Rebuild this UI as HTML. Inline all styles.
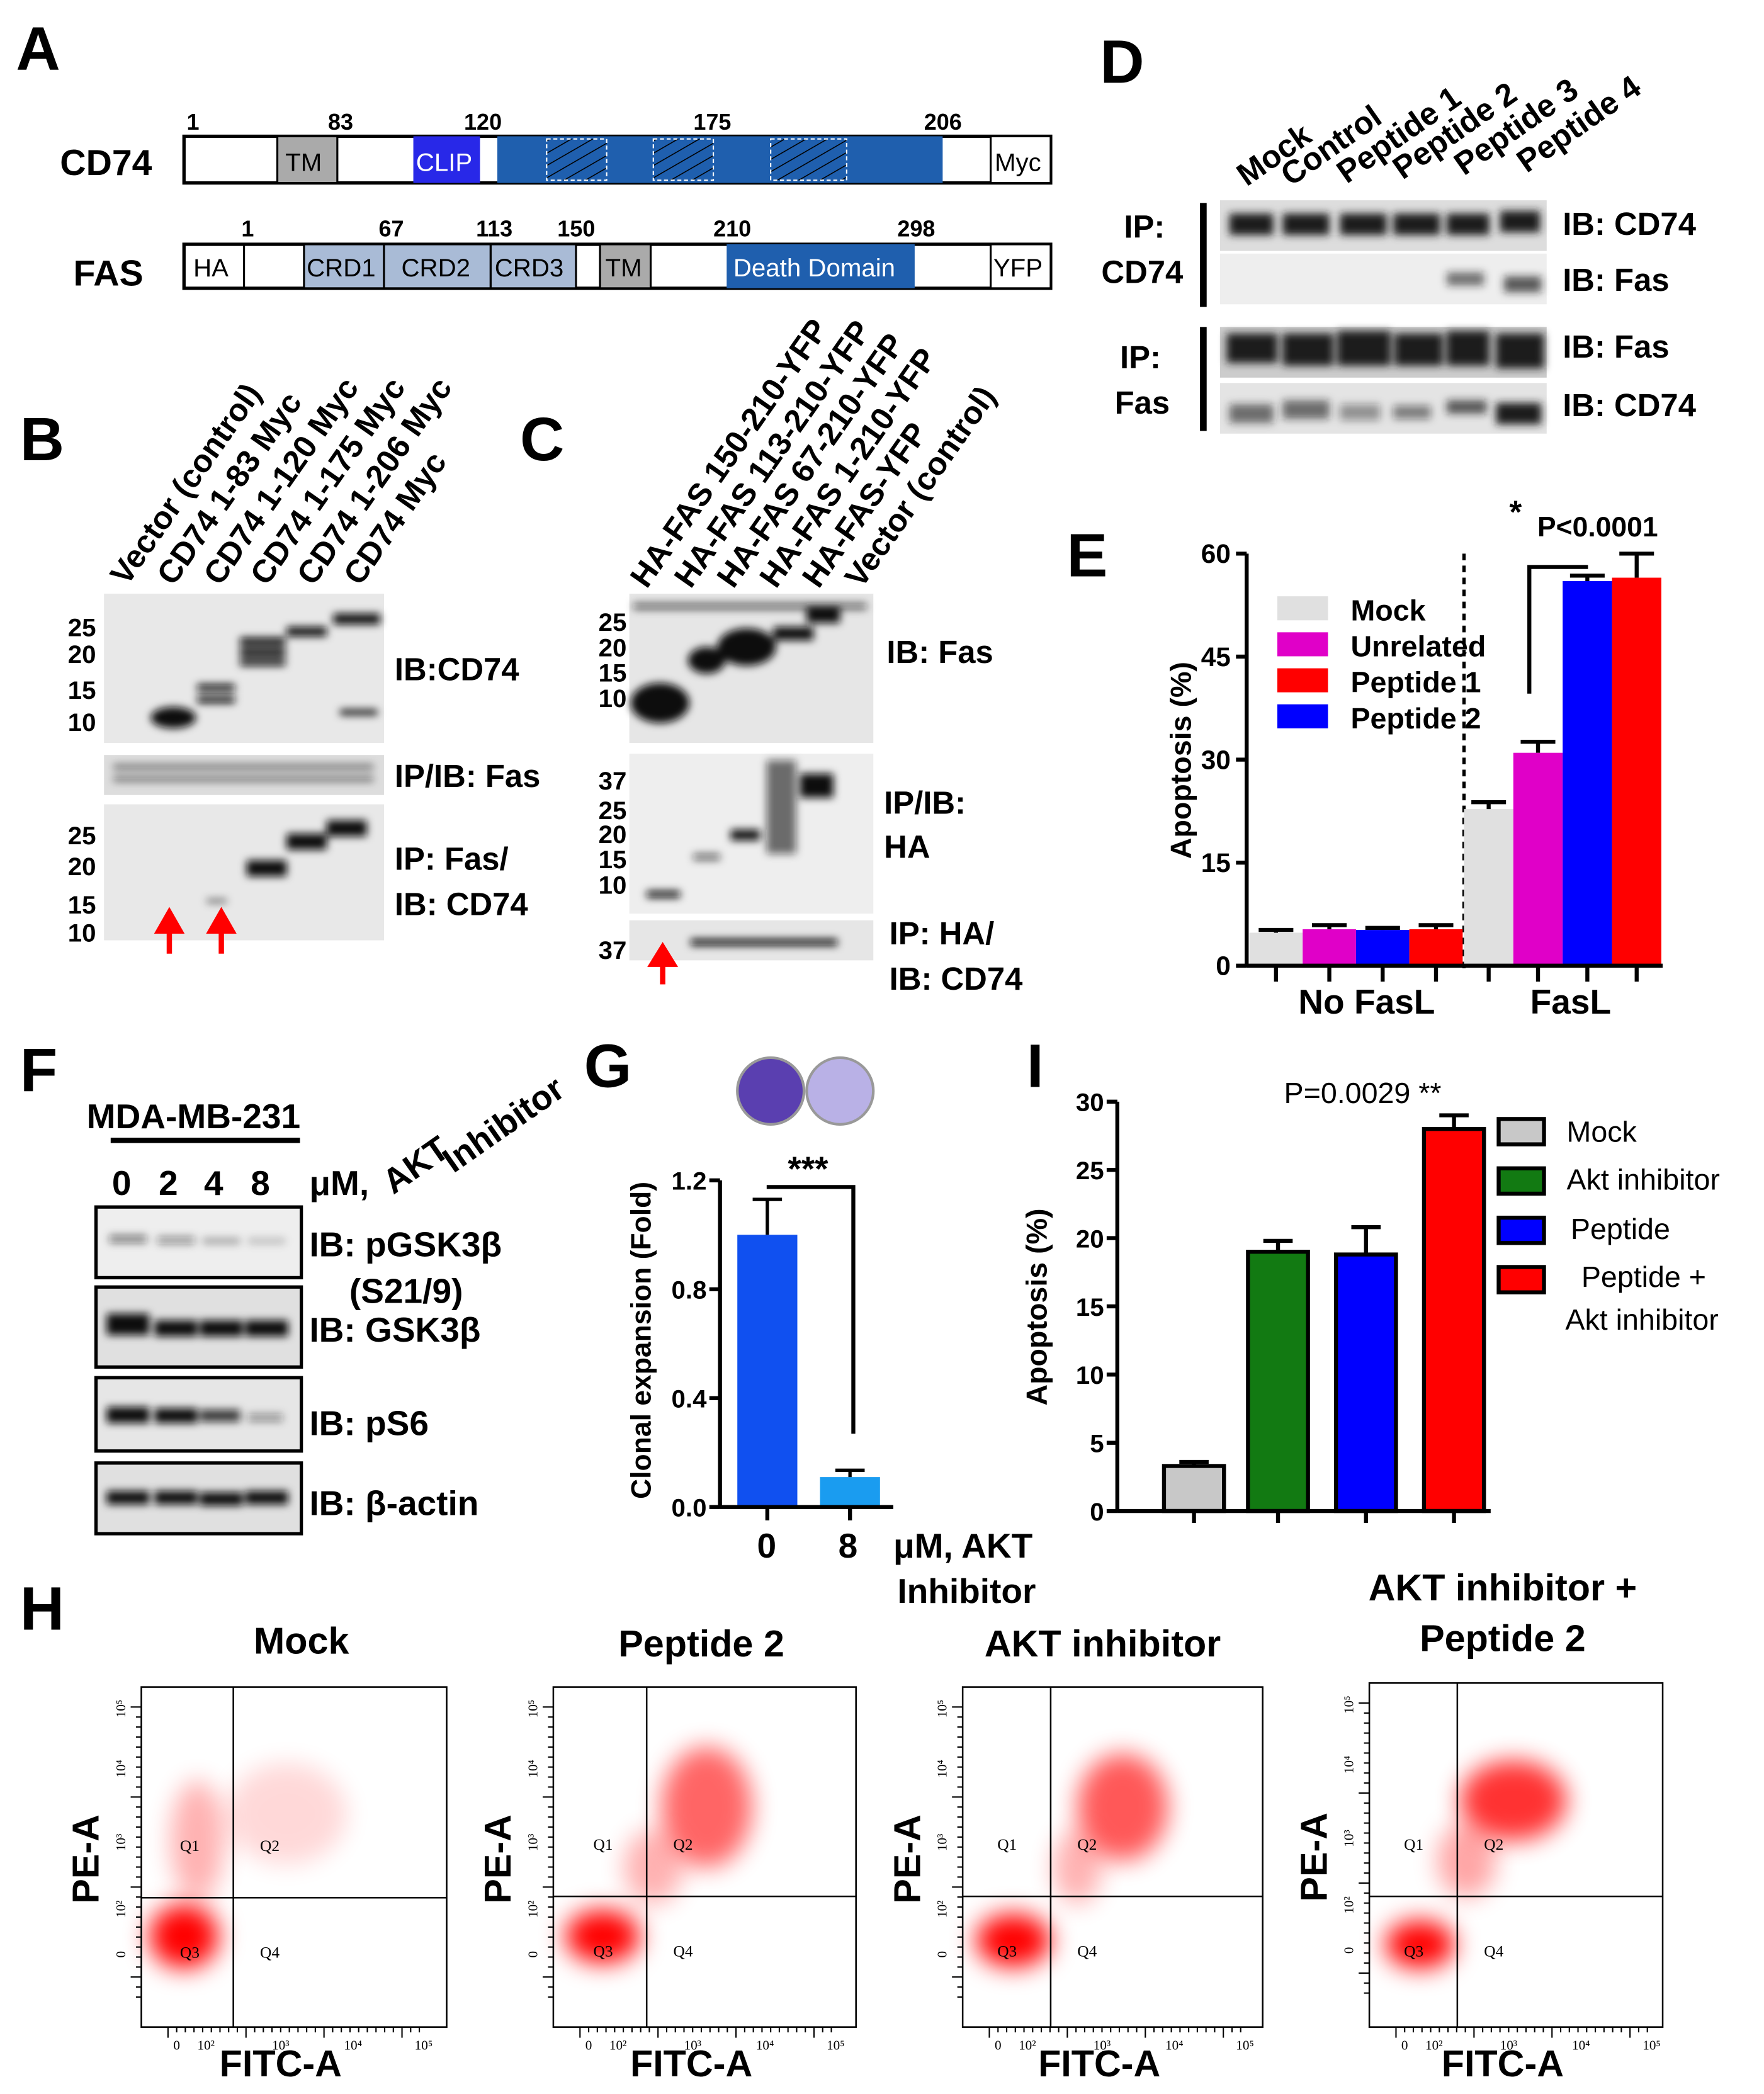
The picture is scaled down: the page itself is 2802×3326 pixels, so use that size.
<!DOCTYPE html>
<html><head><meta charset="utf-8"><style>
html,body{margin:0;padding:0;background:#fff}
svg{display:block}
text{font-family:"Liberation Sans",sans-serif;font-weight:bold;fill:#000}
</style></head><body>
<svg id="fig" width="2802" height="3326" viewBox="0 0 1323 1570" xmlns="http://www.w3.org/2000/svg">
<defs>
<pattern id="hatch" width="8" height="8" patternUnits="userSpaceOnUse" patternTransform="rotate(60)"><rect width="8" height="8" fill="#1f5fae"/><line x1="0" y1="0" x2="0" y2="8" stroke="#000" stroke-width="1.5"/></pattern>
<filter id="blur3" x="-50%" y="-100%" width="200%" height="300%"><feGaussianBlur stdDeviation="3"/></filter>
<filter id="blur8" x="-100%" y="-100%" width="300%" height="300%"><feGaussianBlur stdDeviation="9"/></filter>
</defs>

<!-- Panel A -->
<g>
<text x="12" y="52" font-size="46">A</text>
<text x="45" y="131" font-size="27">CD74</text>
<g font-size="17"><text x="140" y="97">1</text><text x="246" y="97">83</text><text x="348" y="97">120</text><text x="520" y="97">175</text><text x="693" y="97">206</text></g>
<rect x="138" y="102" width="650" height="35" fill="#fff" stroke="#000" stroke-width="2.5"/>
<rect x="208" y="102" width="45" height="35" fill="#aaa" stroke="#000" stroke-width="1.5"/><text x="214" y="128" font-size="19" style="font-weight:normal">TM</text>
<rect x="310" y="102" width="50" height="35" fill="#2828e8"/><text x="312" y="128" font-size="19" style="fill:#fff;font-weight:normal">CLIP</text>
<rect x="373" y="102" width="334" height="35" fill="#1f5fae"/>
<rect x="410" y="104" width="45" height="31" fill="url(#hatch)" stroke="#fff" stroke-dasharray="3 2"/>
<rect x="490" y="104" width="45" height="31" fill="url(#hatch)" stroke="#fff" stroke-dasharray="3 2"/>
<rect x="578" y="104" width="57" height="31" fill="url(#hatch)" stroke="#fff" stroke-dasharray="3 2"/>
<rect x="743" y="102" width="45" height="35" fill="#fff" stroke="#000" stroke-width="1.5"/><text x="746" y="128" font-size="19" style="font-weight:normal">Myc</text>
<text x="55" y="214" font-size="27">FAS</text>
<g font-size="17"><text x="181" y="177">1</text><text x="284" y="177">67</text><text x="357" y="177">113</text><text x="418" y="177">150</text><text x="535" y="177">210</text><text x="673" y="177">298</text></g>
<rect x="138" y="183" width="650" height="33" fill="#fff" stroke="#000" stroke-width="2.5"/>
<text x="145" y="207" font-size="19" style="font-weight:normal">HA</text><line x1="183" y1="183" x2="183" y2="216" stroke="#000" stroke-width="1.5"/>
<rect x="228" y="183" width="60" height="33" fill="#a9bbd6" stroke="#000" stroke-width="1.5"/><text x="230" y="207" font-size="19" style="font-weight:normal">CRD1</text>
<rect x="288" y="183" width="80" height="33" fill="#a9bbd6" stroke="#000" stroke-width="1.5"/><text x="301" y="207" font-size="19" style="font-weight:normal">CRD2</text>
<rect x="368" y="183" width="64" height="33" fill="#a9bbd6" stroke="#000" stroke-width="1.5"/><text x="371" y="207" font-size="19" style="font-weight:normal">CRD3</text>
<rect x="450" y="183" width="38" height="33" fill="#aaa" stroke="#000" stroke-width="1.5"/><text x="454" y="207" font-size="19" style="font-weight:normal">TM</text>
<rect x="545" y="183" width="141" height="33" fill="#1f5fae"/><text x="550" y="207" font-size="19" style="fill:#fff;font-weight:normal">Death Domain</text>
<rect x="743" y="183" width="45" height="33" fill="#fff" stroke="#000" stroke-width="1.5"/><text x="745" y="207" font-size="19" style="font-weight:normal">YFP</text>
</g>

<!-- Panel D -->
<g>
<text x="825" y="62" font-size="46">D</text>
<g font-size="24">
<text transform="translate(935,140) rotate(-35)">Mock</text>
<text transform="translate(968,140) rotate(-35)">Control</text>
<text transform="translate(1010,138) rotate(-35)">Peptide 1</text>
<text transform="translate(1052,135) rotate(-35)">Peptide 2</text>
<text transform="translate(1098,132) rotate(-35)">Peptide 3</text>
<text transform="translate(1145,130) rotate(-35)">Peptide 4</text>
</g>
<text x="843" y="178" font-size="24">IP:</text><text x="826" y="212" font-size="24">CD74</text>
<text x="840" y="276" font-size="24">IP:</text><text x="836" y="310" font-size="24">Fas</text>
<rect x="900" y="152" width="5" height="78" fill="#000"/><rect x="900" y="245" width="5" height="78" fill="#000"/>
<rect x="915" y="150" width="245" height="38" fill="#ddd"/>
<rect x="915" y="190" width="245" height="38" fill="#eee"/>
<rect x="915" y="245" width="245" height="38" fill="#ccc"/>
<rect x="915" y="287" width="245" height="38" fill="#e4e4e4"/>
<g fill="#1a1a1a" filter="url(#blur3)">
<rect x="922" y="160" width="33" height="16"/><rect x="962" y="160" width="35" height="16"/><rect x="1005" y="160" width="35" height="16"/><rect x="1045" y="160" width="35" height="16"/><rect x="1085" y="160" width="32" height="16"/><rect x="1125" y="158" width="30" height="16"/>
<rect x="1085" y="204" width="28" height="10" opacity=".6"/><rect x="1128" y="207" width="28" height="12" opacity=".7"/>
<rect x="920" y="250" width="38" height="22"/><rect x="962" y="250" width="38" height="24"/><rect x="1003" y="248" width="40" height="26"/><rect x="1046" y="250" width="36" height="24"/><rect x="1085" y="248" width="32" height="26"/><rect x="1122" y="250" width="36" height="26"/>
<rect x="922" y="303" width="33" height="14" opacity=".6"/><rect x="962" y="300" width="35" height="14" opacity=".6"/><rect x="1005" y="303" width="30" height="12" opacity=".4"/><rect x="1045" y="304" width="28" height="10" opacity=".5"/><rect x="1085" y="300" width="30" height="10" opacity=".7"/><rect x="1122" y="302" width="34" height="16"/>
</g>
<g font-size="24"><text x="1172" y="176">IB: CD74</text><text x="1172" y="218">IB: Fas</text><text x="1172" y="268">IB: Fas</text><text x="1172" y="312">IB: CD74</text></g>
</g>

<!-- Panel B -->
<g>
<text x="15" y="345" font-size="46">B</text>
<g font-size="24">
<text transform="translate(95,440) rotate(-55)">Vector (control)</text>
<text transform="translate(130,440) rotate(-55)">CD74 1-83 Myc</text>
<text transform="translate(165,440) rotate(-55)">CD74 1-120 Myc</text>
<text transform="translate(200,440) rotate(-55)">CD74 1-175 Myc</text>
<text transform="translate(235,440) rotate(-55)">CD74 1-206 Myc</text>
<text transform="translate(270,440) rotate(-55)">CD74 Myc</text>
</g>
<rect x="78" y="445" width="210" height="112" fill="#e8e8e8"/>
<rect x="78" y="566" width="210" height="30" fill="#ddd"/>
<rect x="78" y="603" width="210" height="102" fill="#e8e8e8"/>
<g fill="#111" filter="url(#blur3)">
<ellipse cx="130" cy="538" rx="17" ry="8"/><rect x="148" y="513" width="28" height="5"/><rect x="148" y="522" width="28" height="5"/>
<rect x="180" y="478" width="34" height="6"/><rect x="180" y="486" width="34" height="6"/><rect x="180" y="494" width="34" height="5"/>
<rect x="215" y="470" width="30" height="7"/><rect x="250" y="460" width="35" height="8"/><rect x="255" y="532" width="28" height="4"/>
<rect x="85" y="573" width="195" height="4" opacity=".5"/><rect x="85" y="582" width="195" height="4" opacity=".5"/>
<rect x="185" y="645" width="30" height="12"/><rect x="215" y="625" width="30" height="12"/><rect x="245" y="615" width="30" height="12"/>
<rect x="155" y="674" width="15" height="3" opacity=".6"/>
</g>
<g font-size="19" text-anchor="end"><text x="72" y="477">25</text><text x="72" y="497">20</text><text x="72" y="524">15</text><text x="72" y="548">10</text>
<text x="72" y="633">25</text><text x="72" y="656">20</text><text x="72" y="685">15</text><text x="72" y="706">10</text></g>
<path d="M127 715 V692 M119 698 L127 684 L135 698 Z M166 715 V692 M158 698 L166 684 L174 698 Z" stroke="#f00" stroke-width="4" fill="#f00"/>
<g font-size="24"><text x="296" y="510">IB:CD74</text><text x="296" y="590">IP/IB: Fas</text><text x="296" y="652">IP: Fas/</text><text x="296" y="686">IB: CD74</text></g>
</g>

<!-- Panel C -->
<g>
<text x="390" y="345" font-size="46">C</text>
<g font-size="24">
<text transform="translate(485,442) rotate(-55)">HA-FAS 150-210-YFP</text>
<text transform="translate(518,442) rotate(-55)">HA-FAS 113-210-YFP</text>
<text transform="translate(550,442) rotate(-55)">HA-FAS 67-210-YFP</text>
<text transform="translate(582,442) rotate(-55)">HA-FAS 1-210-YFP</text>
<text transform="translate(614,442) rotate(-55)">HA-FAS-YFP</text>
<text transform="translate(646,442) rotate(-55)">Vector (control)</text>
</g>
<rect x="472" y="445" width="183" height="112" fill="#e6e6e6"/>
<rect x="472" y="565" width="183" height="120" fill="#eee"/>
<rect x="472" y="690" width="183" height="30" fill="#e6e6e6"/>
<g fill="#111" filter="url(#blur3)">
<ellipse cx="495" cy="527" rx="22" ry="15"/><ellipse cx="530" cy="495" rx="14" ry="10"/><ellipse cx="560" cy="485" rx="22" ry="14"/><rect x="580" y="470" width="30" height="10"/><rect x="605" y="455" width="25" height="12"/><rect x="475" y="452" width="175" height="5" opacity=".6"/>
<rect x="485" y="668" width="25" height="5"/><rect x="520" y="640" width="20" height="5" opacity=".6"/><rect x="548" y="622" width="22" height="8"/><rect x="575" y="570" width="22" height="70" opacity=".6"/><rect x="600" y="580" width="25" height="18"/>
<rect x="518" y="704" width="110" height="5"/>
</g>
<g font-size="19" text-anchor="end"><text x="470" y="473">25</text><text x="470" y="492">20</text><text x="470" y="511">15</text><text x="470" y="530">10</text>
<text x="470" y="592">37</text><text x="470" y="614">25</text><text x="470" y="632">20</text><text x="470" y="651">15</text><text x="470" y="670">10</text><text x="470" y="719">37</text></g>
<path d="M497 738 V718 M489 723 L497 710 L505 723 Z" stroke="#f00" stroke-width="4" fill="#f00"/>
<g font-size="24"><text x="665" y="497">IB: Fas</text><text x="663" y="610">IP/IB:</text><text x="663" y="643">HA</text><text x="667" y="708">IP: HA/</text><text x="667" y="742">IB: CD74</text></g>
</g>

<!-- Panel E chart -->
<g id="chartE">
<text x="800" y="432" font-size="46">E</text>
<text transform="translate(893,570) rotate(-90)" font-size="22" text-anchor="middle">Apoptosis (%)</text>
<text x="1025" y="760" font-size="26" text-anchor="middle">No FasL</text>
<text x="1178" y="760" font-size="26" text-anchor="middle">FasL</text>
<text x="1132" y="392" font-size="24">*</text><text x="1153" y="402" font-size="21">P&lt;0.0001</text>
<path d="M1147 520 V425 H1191" fill="none" stroke="#000" stroke-width="3"/>
<line x1="1098" y1="415" x2="1098" y2="730" stroke="#000" stroke-width="2.5" stroke-dasharray="5 4"/>
</g>

<!-- Panel F -->
<g>
<text x="15" y="818" font-size="46">F</text>
<text x="65" y="846" font-size="26">MDA-MB-231</text>
<rect x="83" y="853" width="142" height="4" fill="#000"/>
<g font-size="26"><text x="84" y="896">0</text><text x="119" y="896">2</text><text x="153" y="896">4</text><text x="188" y="896">8</text><text x="232" y="896">μM,</text></g>
<text transform="translate(295,896) rotate(-35)" font-size="26">AKT</text>
<text transform="translate(340,880) rotate(-35)" font-size="26">Inhibitor</text>
<g stroke="#000" stroke-width="2.5" fill="#eee">
<rect x="72" y="905" width="154" height="53"/><rect x="72" y="965" width="154" height="60" fill="#e0e0e0"/><rect x="72" y="1033" width="154" height="55" fill="#e6e6e6"/><rect x="72" y="1097" width="154" height="53" fill="#e0e0e0"/>
</g>
<g fill="#111" filter="url(#blur3)">
<rect x="82" y="926" width="28" height="6" opacity=".5"/><rect x="118" y="927" width="28" height="6" opacity=".4"/><rect x="152" y="928" width="28" height="5" opacity=".3"/><rect x="186" y="928" width="28" height="5" opacity=".2"/>
<rect x="80" y="985" width="32" height="16"/><rect x="116" y="990" width="32" height="12"/><rect x="150" y="990" width="32" height="12"/><rect x="184" y="990" width="32" height="12"/>
<rect x="80" y="1055" width="32" height="12"/><rect x="116" y="1056" width="32" height="11"/><rect x="150" y="1057" width="30" height="9" opacity=".8"/><rect x="186" y="1060" width="26" height="6" opacity=".4"/>
<rect x="80" y="1118" width="32" height="10"/><rect x="116" y="1118" width="32" height="10"/><rect x="150" y="1119" width="32" height="10"/><rect x="184" y="1118" width="32" height="10"/>
</g>
<g font-size="26"><text x="232" y="942">IB: pGSK3β</text><text x="262" y="977">(S21/9)</text><text x="232" y="1006">IB: GSK3β</text><text x="232" y="1076">IB: pS6</text><text x="232" y="1136">IB: β-actin</text></g>
</g>

<!-- Panel G -->
<g id="chartG">
<text x="438" y="815" font-size="46">G</text>
<circle cx="578" cy="818" r="25" fill="#5a3fb0" stroke="#999" stroke-width="2"/>
<circle cx="630" cy="818" r="25" fill="#b9b1e6" stroke="#999" stroke-width="2"/>
<text transform="translate(488,1005) rotate(-90)" font-size="21" text-anchor="middle">Clonal expansion (Fold)</text>
<text x="606" y="885" font-size="26" text-anchor="middle">***</text>
<path d="M575 890 H640 V1075" fill="none" stroke="#000" stroke-width="3"/>
<text x="575" y="1168" font-size="26" text-anchor="middle">0</text><text x="636" y="1168" font-size="26" text-anchor="middle">8</text>
<text x="670" y="1168" font-size="26">μM, AKT</text><text x="673" y="1202" font-size="26">Inhibitor</text>
</g>

<!-- Panel I -->
<g id="chartI">
<text x="770" y="815" font-size="46">I</text>
<text transform="translate(785,980) rotate(-90)" font-size="22" text-anchor="middle">Apoptosis (%)</text>
<text x="963" y="827" font-size="22" style="font-weight:normal">P=0.0029 **</text>
</g>

<!-- Panel H -->
<g id="panelH">
<text x="15" y="1222" font-size="46">H</text>
<text x="226" y="1240" font-size="28" text-anchor="middle">Mock</text>
<text x="526" y="1242" font-size="28" text-anchor="middle">Peptide 2</text>
<text x="827" y="1242" font-size="28" text-anchor="middle">AKT inhibitor</text>
<text x="1127" y="1200" font-size="28" text-anchor="middle">AKT inhibitor +</text>
<text x="1127" y="1238" font-size="28" text-anchor="middle">Peptide 2</text>
</g>
</svg>
<script>
const NS="http://www.w3.org/2000/svg";
function mk(parent,tag,attrs,txt){const e=document.createElementNS(NS,tag);for(const k in attrs)e.setAttribute(k,attrs[k]);if(txt!==undefined)e.textContent=txt;parent.appendChild(e);return e;}

// ===== Panel E data =====
const eGroups=["No FasL","FasL"];
const eSeries=["Mock","Unrelated","Peptide 2","Peptide 1"];
const eNoFasL=[4.8,5.3,5.2,5.3];
const eFasL=[22.8,31.0,56.0,56.5];
const eErrNoFasL=[0.4,0.6,0.3,0.6];
const eErrFasL=[1.0,1.6,0.8,3.5];
const eTicks=[0,15,30,45,60];
const eColors=["#e0e0e0","#e000c8","#0000ff","#ff0000"];
const eLegend=["Mock","Unrelated","Peptide 1","Peptide 2"];
const eLegendColors=["#e0e0e0","#e000c8","#ff0000","#0000ff"];
(function(){
 const g=document.getElementById('chartE');
 const x0=935,y0=724,yTop=415,yMax=60;
 const y=v=>y0-(v/yMax)*(y0-yTop);
 const groupStart=[937,1098], groupW=[160,148];
 [eNoFasL,eFasL].forEach((vals,gi)=>{
  const errs=gi===0?eErrNoFasL:eErrFasL;
  const bw=groupW[gi]/vals.length;
  vals.forEach((v,i)=>{
   const bx=groupStart[gi]+i*bw;
   const r=mk(g,'rect',{x:bx,y:y(v),width:bw,height:y0-y(v),fill:eColors[i]});
   
   
   const cx=bx+bw/2;
   mk(g,'path',{d:`M${cx} ${y(v)} V${y(v+errs[i])} M${cx-13} ${y(v+errs[i])} H${cx+13}`,stroke:'#000','stroke-width':3,fill:'none'});
   mk(g,'line',{x1:cx,y1:y0,x2:cx,y2:y0+12,stroke:'#000','stroke-width':3});
  });
 });
 mk(g,'line',{x1:x0,y1:yTop,x2:x0,y2:y0+1,stroke:'#000','stroke-width':3});
 mk(g,'line',{x1:x0,y1:y0,x2:1247,y2:y0,stroke:'#000','stroke-width':3});
 eTicks.forEach(t=>{
  mk(g,'line',{x1:x0-8,y1:y(t),x2:x0,y2:y(t),stroke:'#000','stroke-width':3});
  const tl=mk(g,'text',{x:x0-12,y:y(t)+7,'font-size':20,'text-anchor':'end'},t);
  
  
 });
 eLegend.forEach((n,i)=>{
  mk(g,'rect',{x:958,y:447+i*27,width:38,height:18,fill:eLegendColors[i]});
  const lt=mk(g,'text',{x:1013,y:465+i*27,'font-size':22},n);
  
  
 });
})();

// ===== Panel G data =====
const gCats=["0","8"];
const gValues=[1.0,0.11];
const gErrors=[0.13,0.025];
const gTicks=[0.0,0.4,0.8,1.2];
const gColors=["#1050f0","#1a9cf0"];
(function(){
 const g=document.getElementById('chartG');
 const x0=540,y0=1130,yTop=885,yMax=1.2;
 const y=v=>y0-(v/yMax)*(y0-yTop);
 const bxs=[553,615];
 gValues.forEach((v,i)=>{
  const bx=bxs[i],bw=45;
  const r=mk(g,'rect',{x:bx,y:y(v),width:bw,height:y0-y(v),fill:gColors[i]});
  
  
  const cx=bx+bw/2;
  mk(g,'path',{d:`M${cx} ${y(v)} V${y(v+gErrors[i])} M${cx-11} ${y(v+gErrors[i])} H${cx+11}`,stroke:'#000','stroke-width':2.5,fill:'none'});
  mk(g,'line',{x1:cx,y1:y0,x2:cx,y2:y0+10,stroke:'#000','stroke-width':3});
 });
 mk(g,'line',{x1:x0,y1:yTop,x2:x0,y2:y0+1,stroke:'#000','stroke-width':3});
 mk(g,'line',{x1:x0,y1:y0,x2:670,y2:y0,stroke:'#000','stroke-width':3});
 gTicks.forEach(t=>{
  mk(g,'line',{x1:x0-8,y1:y(t),x2:x0,y2:y(t),stroke:'#000','stroke-width':3});
  const tl=mk(g,'text',{x:x0-10,y:y(t)+7,'font-size':19,'text-anchor':'end'},t.toFixed(1));
  
  
 });
})();

// ===== Panel I data =====
const iCats=["Mock","Akt inhibitor","Peptide","Peptide + Akt inhibitor"];
const iValues=[3.3,19.0,18.8,28.0];
const iErrors=[0.3,0.8,2.0,1.0];
const iTicks=[0,5,10,15,20,25,30];
const iColors=["#c8c8c8","#127a12","#0000ff","#ff0000"];
(function(){
 const g=document.getElementById('chartI');
 const x0=838,y0=1133,yTop=826,yMax=30;
 const y=v=>y0-(v/yMax)*(y0-yTop);
 const bxs=[873,936,1002,1068];
 iValues.forEach((v,i)=>{
  const bx=bxs[i],bw=45;
  const r=mk(g,'rect',{x:bx,y:y(v),width:bw,height:y0-y(v),fill:iColors[i],stroke:'#000','stroke-width':3});
  
  
  const cx=bx+bw/2;
  mk(g,'path',{d:`M${cx} ${y(v)} V${y(v+iErrors[i])} M${cx-11} ${y(v+iErrors[i])} H${cx+11}`,stroke:'#000','stroke-width':3,fill:'none'});
  mk(g,'line',{x1:cx,y1:y0,x2:cx,y2:y0+9,stroke:'#000','stroke-width':3});
 });
 mk(g,'line',{x1:x0,y1:yTop,x2:x0,y2:y0+1,stroke:'#000','stroke-width':3});
 mk(g,'line',{x1:x0,y1:y0,x2:1118,y2:y0,stroke:'#000','stroke-width':3});
 iTicks.forEach(t=>{
  mk(g,'line',{x1:x0-8,y1:y(t),x2:x0,y2:y(t),stroke:'#000','stroke-width':3});
  const tl=mk(g,'text',{x:x0-10,y:y(t)+7,'font-size':19,'text-anchor':'end'},t);
  
  
 });
 const lab=[["Mock",1175,856],["Akt inhibitor",1175,892],["Peptide",1178,929],["Peptide +",1186,965],["Akt inhibitor",1174,997]];
 [0,1,2,3].forEach(i=>{
  mk(g,'rect',{x:1124,y:839+i*37,width:34,height:19,fill:iColors[i],stroke:'#000','stroke-width':3});
 });
 lab.forEach(l=>{
  const lt=mk(g,'text',{x:l[1],y:l[2],'font-size':22,style:'font-weight:normal'},l[0]);
  
  
 });
})();

// ===== Panel H flow plots (illustrative density shapes) =====
(function(){
 const g=document.getElementById('panelH');
 const plots=[{x:106,y:1265,w:229,h:255,v:175,hz:1423,cl:[[138,1452,26,24,1],[148,1380,20,45,.3],[215,1360,45,38,.15]]},
  {x:415,y:1265,w:227,h:255,v:485,hz:1422,cl:[[452,1452,28,20,1],[530,1355,34,45,.6],[490,1400,22,28,.3]]},
  {x:722,y:1265,w:225,h:255,v:788,hz:1422,cl:[[760,1455,28,20,1],[842,1355,34,40,.65],[808,1400,18,28,.3]]},
  {x:1027,y:1262,w:220,h:258,v:1093,hz:1422,cl:[[1065,1458,26,18,1],[1135,1350,40,30,.8],[1100,1395,22,28,.35]]}];
 plots.forEach((p,i)=>{
  p.cl.forEach(c=>{
   mk(g,'ellipse',{cx:c[0],cy:c[1],rx:c[2],ry:c[3],fill:'#ff0000',opacity:c[4],filter:'url(#blur8)'});
  });
  mk(g,'rect',{x:p.x,y:p.y,width:p.w,height:p.h,fill:'none',stroke:'#000','stroke-width':1.2});
  mk(g,'line',{x1:p.v,y1:p.y,x2:p.v,y2:p.y+p.h,stroke:'#000','stroke-width':1.2});
  mk(g,'line',{x1:p.x,y1:p.hz,x2:p.x+p.w,y2:p.hz,stroke:'#000','stroke-width':1.2});
  [["Q1",p.v-40,p.hz-35],["Q2",p.v+20,p.hz-35],["Q3",p.v-40,p.hz+45],["Q4",p.v+20,p.hz+45]].forEach(q=>{
   mk(g,'text',{x:q[1],y:q[2],'font-size':12,style:'font-weight:normal;font-family:Liberation Serif,serif'},q[0]);
  });
  const yl=mk(g,'text',{transform:`translate(${p.x-32},${p.y+p.h/2+35}) rotate(-90)`,'font-size':28},'PE-A');
  
  
  const xl=mk(g,'text',{x:p.x+p.w/2-10,y:1557,'font-size':28,'text-anchor':'middle'},'FITC-A');
  
  
  for(let k=0;k<30;k++){const tx=p.x+20+k*6.5;mk(g,'line',{x1:tx,y1:p.y+p.h,x2:tx,y2:p.y+p.h+(k%9===0?8:4),stroke:'#000','stroke-width':1});}
  for(let k=0;k<30;k++){const ty=p.y+15+k*7.5;mk(g,'line',{x1:p.x,y1:ty,x2:p.x-(k%9===0?8:4),y2:ty,stroke:'#000','stroke-width':1});}
  const labs=["0","10²","10³","10⁴","10⁵"];
  const offs=[24,42,98,152,205];
  labs.forEach((l,k)=>{mk(g,'text',{x:p.x+offs[k],y:p.y+p.h+17,'font-size':10,style:'font-weight:normal;font-family:Liberation Serif,serif'},l);});
  const ylabs=["0","10²","10³","10⁴","10⁵"];
  const yoffs=[195,165,115,60,15];
  ylabs.forEach((l,k)=>{mk(g,'text',{transform:`translate(${p.x-12},${p.y+yoffs[k]+8}) rotate(-90)`,'font-size':10,style:'font-weight:normal;font-family:Liberation Serif,serif'},l);});
 });
})();
</script>
</body></html>
